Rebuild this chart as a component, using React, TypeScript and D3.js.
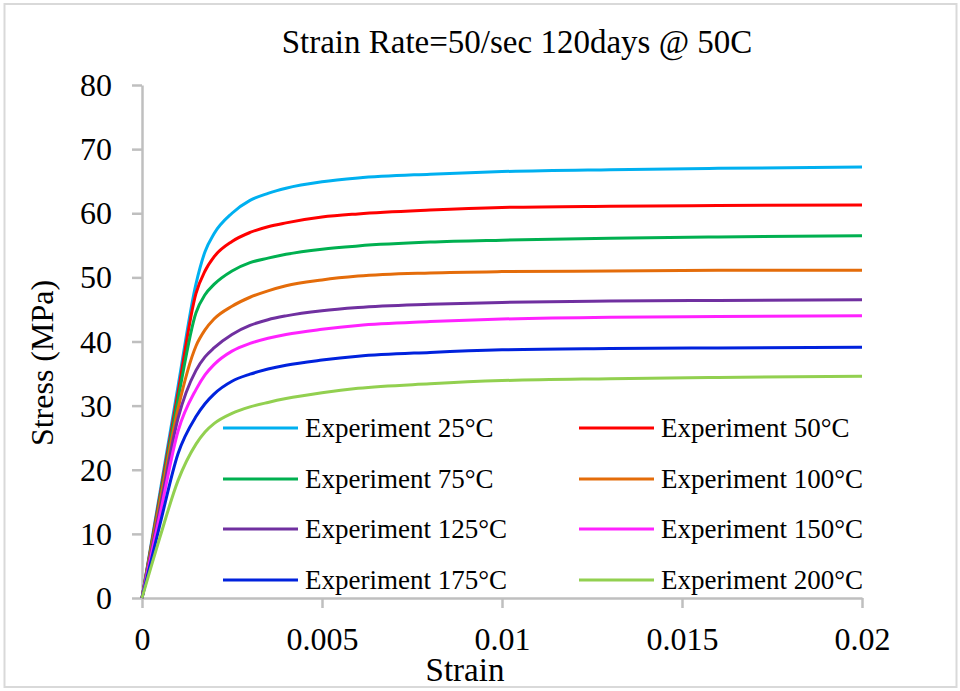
import React, { useRef, useEffect } from "react";
import * as d3 from "d3";

const strain = [
  0, 0.0005, 0.001, 0.0015, 0.00175, 0.002, 0.0025, 0.003, 0.0035, 0.004,
  0.005, 0.006, 0.008, 0.01, 0.013, 0.016, 0.02,
];

const labels = [
  "Experiment 25°C",
  "Experiment 50°C",
  "Experiment 75°C",
  "Experiment 100°C",
  "Experiment 125°C",
  "Experiment 150°C",
  "Experiment 175°C",
  "Experiment 200°C",
];

const colors = [
  "#00B0F0",
  "#FF0000",
  "#00B050",
  "#E46C0A",
  "#7030A0",
  "#FF22FF",
  "#0022DD",
  "#92D050",
];

const stress25 = [0, 16.5, 33, 49, 54, 56.8, 60.0, 62.0, 63.1, 63.9, 64.9, 65.5, 66.1, 66.5, 66.8, 67.0, 67.2];
const stress50 = [0, 16, 32, 47.5, 51, 53.2, 55.6, 57.0, 57.9, 58.5, 59.4, 59.9, 60.5, 60.9, 61.1, 61.2, 61.3];
const stress75 = [0, 15.5, 31, 44.5, 47.3, 48.9, 51.0, 52.3, 53.0, 53.6, 54.4, 54.9, 55.5, 55.8, 56.1, 56.3, 56.5];
const stress100 = [0, 15, 29.5, 39.3, 41.8, 43.5, 45.5, 46.9, 47.9, 48.7, 49.6, 50.2, 50.7, 50.9, 51.0, 51.1, 51.1];
const stress125 = [0, 14, 28, 35.5, 37.6, 39.0, 41.1, 42.5, 43.4, 44.0, 44.8, 45.3, 45.8, 46.1, 46.3, 46.4, 46.5];
const stress150 = [0, 13, 26, 32.5, 34.8, 36.4, 38.5, 39.7, 40.5, 41.1, 41.9, 42.5, 43.1, 43.5, 43.8, 43.9, 44.0];
const stress175 = [0, 11.5, 22.5, 28.3, 30.3, 31.8, 33.8, 34.9, 35.7, 36.3, 37.1, 37.7, 38.3, 38.7, 38.9, 39.0, 39.1];
const stress200 = [0, 9.5, 18.3, 24.0, 25.9, 27.2, 28.8, 29.8, 30.5, 31.1, 32.0, 32.7, 33.4, 33.9, 34.2, 34.4, 34.6];

const series = [stress25, stress50, stress75, stress100, stress125, stress150, stress175, stress200];

const xTicks = [0, 0.005, 0.01, 0.015, 0.02];
const yTicks = [0, 10, 20, 30, 40, 50, 60, 70, 80];

const FONT = "'Liberation Serif', 'Times New Roman', serif";
const AXIS = "#BFBFBF";

const App = () => {
  const svgRef = useRef(null);

  useEffect(() => {
    const width = 960;
    const height = 691;
    const margin = { top: 85, right: 98, bottom: 93, left: 142 };

    const svg = d3.select(svgRef.current);
    svg.selectAll("*").remove();

    const x = d3
      .scaleLinear()
      .domain([0, 0.02])
      .range([margin.left, width - margin.right]);

    const y = d3
      .scaleLinear()
      .domain([0, 80])
      .range([height - margin.bottom, margin.top]);

    svg
      .append("rect")
      .attr("x", 4.5)
      .attr("y", 4)
      .attr("width", 952)
      .attr("height", 683)
      .attr("fill", "white")
      .attr("stroke", "#D9D9D9")
      .attr("stroke-width", 2);

    // Title
    svg
      .append("text")
      .attr("x", 517)
      .attr("y", 53)
      .attr("text-anchor", "middle")
      .attr("font-family", FONT)
      .attr("font-size", 33)
      .attr("fill", "black")
      .text("Strain Rate=50/sec 120days @ 50C");

    // Axes
    const yAxis = svg
      .append("g")
      .attr("transform", `translate(${margin.left},0)`)
      .call(d3.axisLeft(y).tickValues(yTicks).tickSizeInner(10).tickSizeOuter(0).tickPadding(20));

    const xAxis = svg
      .append("g")
      .attr("transform", `translate(0,${y(0)})`)
      .call(
        d3
          .axisBottom(x)
          .tickValues(xTicks)
          .tickSizeInner(10)
          .tickSizeOuter(0)
          .tickPadding(19)
          .tickFormat((d) => String(d))
      );

    [xAxis, yAxis].forEach((g) => {
      g.attr("font-family", FONT);
      g.select(".domain").attr("stroke", AXIS).attr("stroke-width", 2.5);
      g.selectAll(".tick line").attr("stroke", AXIS).attr("stroke-width", 2.5);
      g.selectAll(".tick text")
        .attr("font-family", FONT)
        .attr("font-size", 32)
        .attr("fill", "black");
    });
    xAxis.selectAll(".tick text").attr("dy", "0.71em");
    yAxis.selectAll(".tick text").attr("dy", "0.33em");

    // Axis titles
    svg
      .append("text")
      .attr("x", 465)
      .attr("y", 681)
      .attr("text-anchor", "middle")
      .attr("font-family", FONT)
      .attr("font-size", 33)
      .attr("fill", "black")
      .text("Strain");

    svg
      .append("text")
      .attr("transform", `translate(53, 363) rotate(-90)`)
      .attr("text-anchor", "middle")
      .attr("font-family", FONT)
      .attr("font-size", 32)
      .attr("fill", "black")
      .text("Stress (MPa)");

    // Curves
    const line = d3
      .line()
      .x((d) => x(d[0]))
      .y((d) => y(d[1]))
      .curve(d3.curveMonotoneX);

    series.forEach((values, i) => {
      svg
        .append("path")
        .datum(values.map((v, j) => [strain[j], v]))
        .attr("fill", "none")
        .attr("stroke", colors[i])
        .attr("stroke-width", 3)
        .attr("stroke-linejoin", "round")
        .attr("d", line);
    });

    // Legend
    const colX = [223, 579];
    const rowY = [428, 479, 529, 580];
    labels.forEach((label, i) => {
      const lx = colX[i % 2];
      const ly = rowY[Math.floor(i / 2)];
      const item = svg.append("g").attr("transform", `translate(${lx},${ly})`);
      item
        .append("line")
        .attr("x1", 0)
        .attr("x2", 75)
        .attr("y1", 0)
        .attr("y2", 0)
        .attr("stroke", colors[i])
        .attr("stroke-width", 3);
      item
        .append("text")
        .attr("x", 82)
        .attr("y", 9)
        .attr("font-family", FONT)
        .attr("font-size", 27)
        .attr("fill", "black")
        .text(label);
    });
  }, []);

  return (
    <svg
      ref={svgRef}
      width={960}
      height={691}
      style={{ position: "absolute", left: 0, top: 0, background: "white" }}
    />
  );
};

export default App;
